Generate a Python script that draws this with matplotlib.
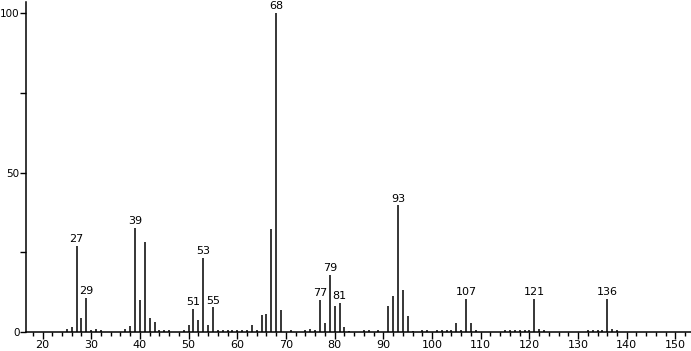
import matplotlib
matplotlib.use("Agg")
import matplotlib.pyplot as plt
from matplotlib.ticker import MultipleLocator

mz = [25, 26, 27, 28, 29, 30, 31, 32, 37, 38, 39, 40, 41, 42, 43, 44, 45, 46,
      49, 50, 51, 52, 53, 54, 55, 56, 57, 58, 59, 60, 61, 62, 63, 64, 65, 66,
      67, 68, 69, 71, 74, 75, 76, 77, 78, 79, 80, 81, 82, 83, 86, 87, 89,
      91, 92, 93, 94, 95, 96, 98, 99, 101, 102, 103, 104, 105, 106, 107, 108, 109,
      115, 116, 117, 118, 119, 120, 121, 122, 123, 132, 133, 134, 135, 136, 137, 138]
intensity = [0.8, 1.6, 26.9, 4.3, 10.6, 0.5, 0.8, 0.5, 1.0, 2.0, 32.5, 10.0, 28.1, 4.3, 3.1, 0.6, 0.5, 0.5,
             0.6, 2.1, 7.1, 3.8, 23.3, 2.1, 7.7, 0.5, 0.5, 0.5, 0.5, 0.5, 0.5, 0.7, 2.1, 0.6, 5.2, 5.8,
             32.2, 100.0, 6.9, 0.6, 0.5, 0.8, 0.7, 10.0, 2.8, 17.8, 8.1, 9.1, 1.5, 0.4, 0.5, 0.5, 0.5,
             8.1, 11.2, 39.7, 13.2, 5.0, 0.4, 0.5, 0.5, 0.5, 0.5, 0.5, 0.5, 2.8, 0.5, 10.3, 2.8, 0.6,
             0.5, 0.5, 0.5, 0.5, 0.5, 0.5, 10.3, 0.8, 0.5, 0.5, 0.5, 0.6, 0.6, 10.5, 0.8, 0.5]
labeled = [27, 29, 39, 51, 53, 55, 68, 77, 79, 81, 93, 107, 121, 136]

fig = plt.figure(figsize=(6.91, 3.51), dpi=100)
ax = fig.add_axes([26/691, 19/351, 665/691, 330/351])
ax.vlines(mz, 0, intensity, colors="black", linewidth=1.1)
for m, v in zip(mz, intensity):
    if m in labeled:
        ax.text(m, v + 0.6, str(m), ha="center", va="bottom", fontsize=8,
                family="DejaVu Sans")

ax.set_xlim(16.6, 153.2)
ax.set_ylim(0, 103.5)
for s in ["top", "right"]:
    ax.spines[s].set_visible(False)
ax.spines["left"].set_linewidth(1.1)
ax.spines["bottom"].set_linewidth(1.1)
ax.xaxis.set_minor_locator(MultipleLocator(2))
ax.set_xticks(range(20, 151, 10))
ax.set_yticks([0, 50, 100])
ax.yaxis.set_minor_locator(MultipleLocator(25))
ax.tick_params(axis="x", which="major", length=5, width=1, labelsize=8, pad=1)
ax.tick_params(axis="x", which="minor", length=3, width=1)
ax.tick_params(axis="y", which="major", length=4, width=1, labelsize=7.5, pad=0.5)
ax.tick_params(axis="y", which="minor", length=4, width=1)
fig.savefig("out.png", dpi=100)
